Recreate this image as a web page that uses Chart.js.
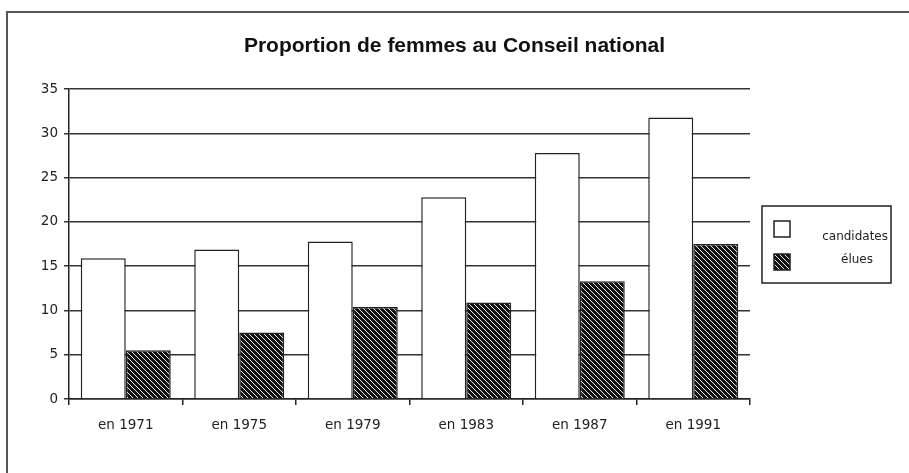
<!DOCTYPE html>
<html>
<head>
<meta charset="utf-8">
<script src="https://cdn.jsdelivr.net/npm/chart.js@4/dist/chart.umd.min.js"></script>
<style>
  html, body { margin: 0; padding: 0; background: #fff; }
  #wrap { width: 909px; height: 473px; position: relative; }
</style>
</head>
<body>
<div id="wrap"><canvas id="chart"></canvas></div>
<script>
var categories = ["en 1971", "en 1975", "en 1979", "en 1983", "en 1987", "en 1991"];
var candidates = [15.9, 16.9, 17.8, 22.8, 27.8, 31.8];
var elues = [5.5, 7.5, 10.4, 10.9, 13.3, 17.5];
var seriesNames = ["candidates", "élues"];
var yMax = 35;
var yStep = 5;

var ink = "#222";

function hatch() {
    var c = document.createElement("canvas");
    c.width = 5;
    c.height = 5;
    var g = c.getContext("2d");
    g.fillStyle = "#111";
    g.fillRect(0, 0, 5, 5);
    g.strokeStyle = "#eee";
    g.lineWidth = 1;
    for (var k = -5; k <= 5; k += 5) {
        g.beginPath();
        g.moveTo(k - 1, -1);
        g.lineTo(k + 6, 6);
        g.stroke();
    }
    return g.createPattern(c, "repeat");
}

var hatchFill = hatch();

// frame lines (top and left only) and the boxed legend on the right
var decor = {
    id: "decor",
    beforeDraw: function(chart) {
        var ctx = chart.ctx;
        ctx.save();
        ctx.strokeStyle = "#555";
        ctx.lineWidth = 2;
        ctx.beginPath();
        ctx.moveTo(7, 473);
        ctx.lineTo(7, 12);
        ctx.lineTo(909, 12);
        ctx.stroke();
        ctx.restore();
    },
    afterDraw: function(chart) {
        var ctx = chart.ctx;
        ctx.save();
        ctx.strokeStyle = ink;
        ctx.lineWidth = 1.5;
        ctx.strokeRect(762, 206, 129, 77);

        ctx.fillStyle = "#fff";
        ctx.fillRect(774, 221, 16, 16);
        ctx.strokeRect(774, 221, 16, 16);
        ctx.fillStyle = hatchFill;
        ctx.fillRect(774, 254, 16, 16);
        ctx.strokeRect(774, 254, 16, 16);

        ctx.fillStyle = ink;
        ctx.font = "12px 'DejaVu Sans'";
        ctx.textBaseline = "middle";
        ctx.textAlign = "right";
        ctx.fillText(chart.data.datasets[0].label, 888, 237);
        ctx.textAlign = "center";
        ctx.fillText(chart.data.datasets[1].label, 857, 260);
        ctx.restore();
    }
};

var ctx = document.getElementById("chart").getContext("2d");

new Chart(ctx, {
    type: "bar",
    data: {
        labels: categories,
        datasets: [{
            label: seriesNames[0],
            data: candidates,
            backgroundColor: "#fff",
            borderColor: ink,
            borderWidth: 1.5
        }, {
            label: seriesNames[1],
            data: elues,
            backgroundColor: hatchFill,
            borderColor: ink,
            borderWidth: 1.5
        }]
    },
    options: {
        responsive: true,
        maintainAspectRatio: false,
        animation: false,
        layout: { padding: 0 },
        categoryPercentage: 0.793,
        barPercentage: 1,
        plugins: {
            legend: { display: false },
            tooltip: { enabled: false },
            title: {
                display: true,
                text: "Proportion de femmes au Conseil national",
                color: "#111",
                font: { family: "'Liberation Sans Narrow', 'Liberation Sans'", size: 21, weight: "bold" },
                padding: { top: 34, bottom: 30 }
            }
        },
        scales: {
            x: {
                afterFit: function(s) { s.height = 74; },
                grid: { offset: true, drawOnChartArea: false, tickLength: 6, color: ink, lineWidth: 1.5 },
                border: { display: true, color: ink, width: 1.5 },
                ticks: { color: ink, padding: 12, font: { family: "'DejaVu Sans'", size: 13.5 } }
            },
            y: {
                min: 0,
                max: yMax,
                afterFit: function(s) { s.width = 69; },
                grid: { color: "#333", lineWidth: 1.5, tickLength: 5 },
                border: { display: true, color: ink, width: 1.5 },
                ticks: { stepSize: yStep, color: ink, padding: 6, font: { family: "'DejaVu Sans'", size: 13.5 } }
            },
            // empty right axis only reserves room for the legend box
            side: {
                position: "right",
                display: true,
                afterFit: function(s) { s.width = 159; },
                grid: { display: false },
                border: { display: false },
                ticks: { display: false }
            }
        }
    },
    plugins: [decor]
});
</script>
</body>
</html>
